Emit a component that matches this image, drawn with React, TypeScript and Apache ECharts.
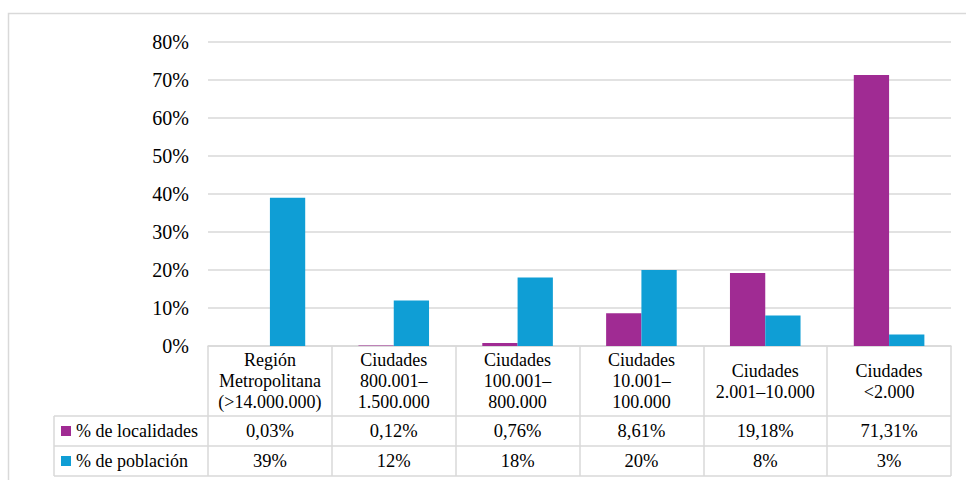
import React, { useEffect, useRef } from "react";
import * as echarts from "echarts";

const categories = [
  "Región\nMetropolitana\n(>14.000.000)",
  "Ciudades\n800.001–\n1.500.000",
  "Ciudades\n100.001–\n800.000",
  "Ciudades\n10.001–\n100.000",
  "Ciudades\n2.001–10.000",
  "Ciudades\n<2.000",
];
const localidades = [0.03, 0.12, 0.76, 8.61, 19.18, 71.31];
const poblacion = [39, 12, 18, 20, 8, 3];
const seriesNames = ["% de localidades", "% de población"];

const W = 966;
const H = 480;
const GRID_LEFT = 208;
const GRID_RIGHT = 15;
const GRID_TOP = 42;
const GRID_BOTTOM = 134;
const HEADER_H = 70;
const ROW_H = 30;
const TABLE_LEFT = 54;
const FONT = "Liberation Serif";
const LINE = "#d9d9d9";
const PURPLE = "#A02B93";
const BLUE = "#0F9ED5";

export default function App() {
  const ref = useRef<HTMLDivElement>(null);
  useEffect(() => {
    if (!ref.current) return;
    const chart = echarts.init(ref.current, undefined, { renderer: "svg" });
    const axisY = H - GRID_BOTTOM;
    const gridRightX = W - GRID_RIGHT;
    const row1Y = axisY + HEADER_H;
    const row2Y = row1Y + ROW_H;
    const row3Y = row2Y + ROW_H;
    const locLabels = localidades.map((v) => v.toFixed(2).replace(".", ",") + "%");
    const popLabels = poblacion.map((v) => v + "%");
    const tableAxis = (data: string[], margin: number) => ({
      type: "category",
      data,
      position: "bottom",
      gridIndex: 0,
      axisLine: { show: false },
      axisTick: { show: false },
      splitLine: { show: false },
      axisLabel: {
        interval: 0,
        margin,
        verticalAlign: "middle",
        fontFamily: FONT,
        fontSize: 18.5,
        color: "#000",
      },
    });
    chart.setOption({
      animation: false,
      backgroundColor: "#fff",
      textStyle: { fontFamily: FONT },
      grid: { left: GRID_LEFT, right: GRID_RIGHT, top: GRID_TOP, bottom: GRID_BOTTOM },
      legend: {
        orient: "vertical",
        left: 61,
        top: row1Y + 5,
        padding: 0,
        itemWidth: 10,
        itemHeight: 10,
        itemGap: 10,
        icon: "rect",
        selectedMode: false,
        textStyle: { fontFamily: FONT, fontSize: 18, color: "#000", lineHeight: 20 },
        data: seriesNames,
      },
      xAxis: [
        {
          type: "category",
          data: categories,
          position: "bottom",
          axisLine: { show: true, lineStyle: { color: LINE, width: 1.5 } },
          axisTick: { show: true, length: HEADER_H + 2 * ROW_H, lineStyle: { color: LINE, width: 1.5 } },
          axisLabel: {
            interval: 0,
            margin: HEADER_H / 2,
            verticalAlign: "middle",
            lineHeight: 21,
            fontFamily: FONT,
            fontSize: 18,
            color: "#000",
          },
        },
        tableAxis(locLabels, HEADER_H + ROW_H / 2),
        tableAxis(popLabels, HEADER_H + ROW_H * 1.5),
      ],
      yAxis: {
        type: "value",
        min: 0,
        max: 80,
        interval: 10,
        axisLine: { show: false },
        axisTick: { show: false },
        splitLine: { lineStyle: { color: LINE, width: 1.5 } },
        axisLabel: {
          formatter: "{value}%",
          margin: 19,
          fontFamily: FONT,
          fontSize: 20,
          color: "#000",
        },
      },
      series: [
        {
          name: seriesNames[0],
          type: "bar",
          xAxisIndex: 0,
          data: localidades,
          barGap: "0%",
          barCategoryGap: "43%",
          itemStyle: { color: PURPLE },
        },
        {
          name: seriesNames[1],
          type: "bar",
          xAxisIndex: 0,
          data: poblacion,
          itemStyle: { color: BLUE },
        },
      ],
      graphic: [
        {
          type: "rect",
          shape: { x: 8.5, y: 13.5, width: W + 20, height: H + 20 },
          style: { fill: "none", stroke: LINE, lineWidth: 1.5 },
          silent: true,
        },
        ...[row1Y, row2Y, row3Y].map((y) => ({
          type: "line",
          shape: { x1: TABLE_LEFT, y1: y, x2: gridRightX, y2: y },
          style: { stroke: LINE, lineWidth: 1.5 },
          silent: true,
        })),
        {
          type: "line",
          shape: { x1: TABLE_LEFT, y1: row1Y, x2: TABLE_LEFT, y2: row3Y },
          style: { stroke: LINE, lineWidth: 1.5 },
          silent: true,
        },
      ],
    });
    return () => chart.dispose();
  }, []);
  return (
    <div
      ref={ref}
      style={{ position: "absolute", left: 0, top: 0, width: W, height: H }}
    />
  );
}
